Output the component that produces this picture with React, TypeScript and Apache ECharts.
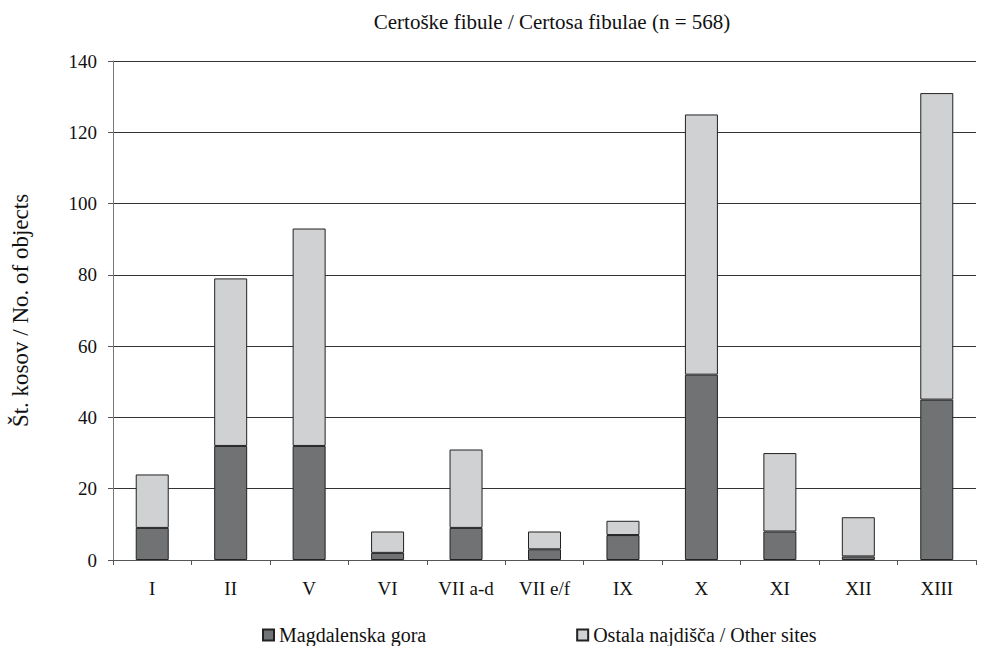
import React, { useEffect, useRef } from "react";
import * as echarts from "echarts";

const categories = ["I", "II", "V", "VI", "VII a-d", "VII e/f", "IX", "X", "XI", "XII", "XIII"];
const magdalenska = [9, 32, 32, 2, 9, 3, 7, 52, 8, 1, 45];
const otherSites = [15, 47, 61, 6, 22, 5, 4, 73, 22, 11, 86];
const yTicks = { min: 0, max: 140, interval: 20 };

const FONT = "'Liberation Serif', 'Times New Roman', serif";

export default function App() {
  const ref = useRef<HTMLDivElement>(null);
  useEffect(() => {
    if (!ref.current) return;
    const chart = echarts.init(ref.current, null, { renderer: "svg" });
    chart.setOption({
      animation: false,
      backgroundColor: "#ffffff",
      textStyle: { fontFamily: FONT, color: "#111" },
      title: {
        text: "Certoške fibule / Certosa fibulae (n = 568)",
        left: 547,
        textAlign: "center",
        top: 6,
        textStyle: { fontFamily: FONT, fontSize: 21, fontWeight: 400, color: "#111" },
      },
      legend: {
        left: 257,
        top: 620,
        itemWidth: 11,
        itemHeight: 11,
        itemGap: 150,
        icon: "rect",
        textStyle: { fontFamily: FONT, fontSize: 20, color: "#111" },
        data: ["Magdalenska gora", "Ostala najdišča / Other sites"],
      },
      grid: { left: 113, right: 7, top: 61, bottom: 86, containLabel: false },
      xAxis: {
        type: "category",
        data: categories,
        axisLine: { lineStyle: { color: "#555", width: 1 } },
        axisTick: { show: true, alignWithLabel: false, length: 5, lineStyle: { color: "#555" } },
        axisLabel: { fontFamily: FONT, fontSize: 19, color: "#111", margin: 19 },
      },
      yAxis: {
        type: "value",
        min: yTicks.min,
        max: yTicks.max,
        interval: yTicks.interval,
        name: "Št. kosov / No. of objects",
        nameLocation: "middle",
        nameGap: 81,
        nameTextStyle: { fontFamily: FONT, fontSize: 23, color: "#111" },
        axisLine: { show: true, lineStyle: { color: "#777", width: 1 } },
        axisTick: { show: true, length: 5, lineStyle: { color: "#555" } },
        axisLabel: { fontFamily: FONT, fontSize: 19, color: "#111", margin: 16 },
        splitLine: { show: true, lineStyle: { color: "#333", width: 1 } },
      },
      series: [
        {
          name: "Magdalenska gora",
          type: "bar",
          stack: "total",
          barWidth: 33,
          data: magdalenska,
          itemStyle: { color: "#717274", borderColor: "#222", borderWidth: 1 },
        },
        {
          name: "Ostala najdišča / Other sites",
          type: "bar",
          stack: "total",
          barWidth: 33,
          data: otherSites,
          itemStyle: { color: "#d0d1d3", borderColor: "#222", borderWidth: 1 },
        },
      ],
    });
    return () => chart.dispose();
  }, []);
  return <div ref={ref} style={{ width: 983, height: 646, position: "absolute", left: 0, top: 0 }} />;
}
